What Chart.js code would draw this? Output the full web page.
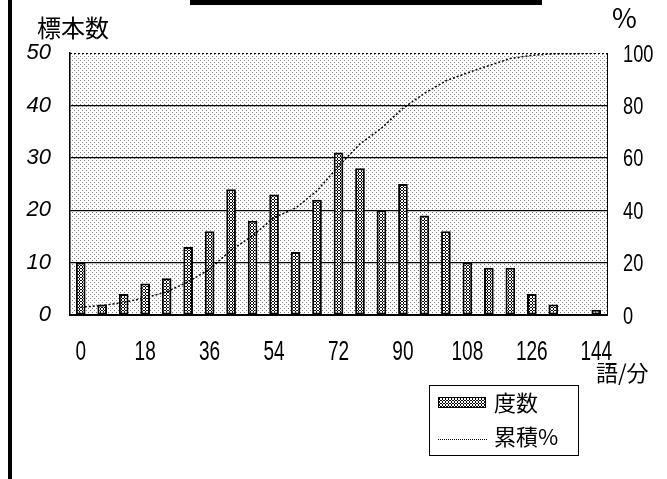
<!DOCTYPE html>
<html>
<head>
<meta charset="utf-8">
<script src="https://cdn.jsdelivr.net/npm/chart.js@4"></script>
<style>
  html, body { margin: 0; padding: 0; background: #fff; }
  #wrap { width: 667px; height: 479px; }
</style>
</head>
<body>
<div id="wrap"><canvas id="freqChart" width="667" height="479"></canvas></div>
<script>
// bins of reading speed (words per minute), step 6
const categories = [0, 6, 12, 18, 24, 30, 36, 42, 48, 54, 60, 66, 72, 78, 84, 90, 96, 102, 108, 114, 120, 126, 132, 138, 144];
// frequency (sample count) per bin
const frequency = [10, 2, 4, 6, 7, 13, 16, 24, 18, 23, 12, 22, 31, 28, 20, 25, 19, 16, 10, 9, 9, 4, 2, 0, 1];
// cumulative percentage
const cumulativePct = [3.0, 3.6, 4.8, 6.6, 8.8, 12.7, 17.5, 24.8, 30.2, 37.2, 40.8, 47.4, 56.8, 65.3, 71.3, 78.9, 84.6, 89.4, 92.4, 95.2, 97.9, 99.1, 99.7, 99.7, 100];
// which category labels are shown on the x axis
const xTickLabels = ['0', '18', '36', '54', '72', '90', '108', '126', '144'];

const seriesNames = ['度数', '累積%'];
const leftTitle = '標本数';
const rightTitle = '%';
const xTitle = '語/分';

const cjkFont = '"Noto Sans CJK JP", sans-serif';
const latinFont = '"Liberation Sans", Arial, sans-serif';

// stippled grey background for the plot area
function makeStipple() {
    const c = document.createElement('canvas');
    c.width = 4; c.height = 4;
    const g = c.getContext('2d');
    g.fillStyle = '#ffffff';
    g.fillRect(0, 0, 4, 4);
    g.fillStyle = '#808080';
    g.fillRect(0, 0, 1, 1);
    g.fillRect(2, 2, 1, 1);
    return g.createPattern(c, 'repeat');
}

// chain-like hatch used inside the bars
function makeBarHatch() {
    const c = document.createElement('canvas');
    c.width = 3; c.height = 3;
    const g = c.getContext('2d');
    g.fillStyle = '#ffffff';
    g.fillRect(0, 0, 3, 3);
    g.fillStyle = '#000000';
    g.fillRect(1, 0, 1, 1);
    g.fillRect(0, 1, 1, 1);
    g.fillRect(2, 1, 1, 1);
    g.fillRect(1, 2, 1, 1);
    return g.createPattern(c, 'repeat');
}

const stipple = makeStipple();
const barHatch = makeBarHatch();

// condensed text: draw with a horizontal squeeze
function narrowText(ctx, text, x, y, sx, align) {
    ctx.save();
    ctx.translate(x, y);
    ctx.scale(sx, 1);
    ctx.textAlign = align;
    ctx.fillText(text, 0, 0);
    ctx.restore();
}

// plot background, frame, narrow tick labels, titles and legend
const decorPlugin = {
    id: 'decor',
    beforeDraw(chart) {
        const ctx = chart.ctx;
        const a = chart.chartArea;
        ctx.save();
        ctx.fillStyle = '#ffffff';
        ctx.fillRect(0, 0, chart.width, chart.height);
        ctx.fillStyle = stipple;
        ctx.fillRect(a.left, a.top, a.right - a.left, a.bottom - a.top);
        ctx.restore();
    },
    afterDraw(chart) {
        const ctx = chart.ctx;
        const a = chart.chartArea;
        ctx.save();

        // dotted top border
        ctx.strokeStyle = '#000';
        ctx.lineWidth = 1;
        ctx.setLineDash([2, 2]);
        ctx.beginPath();
        ctx.moveTo(a.left, a.top + 0.5);
        ctx.lineTo(a.right, a.top + 0.5);
        ctx.stroke();
        ctx.setLineDash([]);

        // black edge on the left and bar at the top (cropped frame)
        ctx.fillStyle = '#000';
        ctx.fillRect(8, 0, 4, chart.height);
        ctx.fillRect(190, 0, 352, 5);

        // x tick labels (condensed)
        const xs = chart.scales.x;
        ctx.fillStyle = '#000';
        ctx.textBaseline = 'alphabetic';
        ctx.font = '28px ' + latinFont;
        xTickLabels.forEach(lbl => {
            const idx = categories.indexOf(Number(lbl));
            const px = xs.getPixelForValue(idx);
            narrowText(ctx, lbl, px, xs.top + 45, 0.68, 'center');
        });

        // right tick labels (condensed)
        const ys = chart.scales.y2;
        ctx.font = '24px ' + latinFont;
        ys.ticks.forEach(t => {
            const py = ys.getPixelForValue(t.value);
            narrowText(ctx, String(t.value), ys.left + 16, py + 8.5, 0.76, 'left');
        });

        // axis titles
        ctx.textBaseline = 'top';
        ctx.textAlign = 'left';
        ctx.font = '24px ' + cjkFont;
        ctx.fillText(leftTitle, 37, 16);
        ctx.font = '27px ' + cjkFont;
        ctx.fillText(rightTitle, 612, 4);
        ctx.font = '22px ' + cjkFont;
        ctx.fillText(xTitle, 596, 362);

        // legend box
        ctx.strokeStyle = '#000';
        ctx.lineWidth = 1;
        ctx.strokeRect(429.5, 385.5, 149, 70);
        ctx.fillStyle = barHatch;
        ctx.fillRect(438, 397, 48, 11);
        ctx.strokeRect(438.5, 397.5, 47, 10);
        ctx.setLineDash([1, 1]);
        ctx.beginPath();
        ctx.moveTo(438, 439.5);
        ctx.lineTo(487, 439.5);
        ctx.stroke();
        ctx.setLineDash([]);
        ctx.fillStyle = '#000';
        ctx.textBaseline = 'middle';
        ctx.font = '22px ' + cjkFont;
        ctx.fillText(seriesNames[0], 494, 403);
        ctx.fillText(seriesNames[1], 494, 437);

        ctx.restore();
    }
};

function createChart() {
    const ctx = document.getElementById('freqChart').getContext('2d');

    new Chart(ctx, {
        data: {
            labels: categories,
            datasets: [
                {
                    type: 'line',
                    label: seriesNames[1],
                    data: cumulativePct,
                    yAxisID: 'y2',
                    borderColor: '#000',
                    borderWidth: 1.5,
                    borderDash: [2, 2],
                    pointRadius: 0,
                    tension: 0,
                    fill: false,
                    order: 0
                },
                {
                    type: 'bar',
                    label: seriesNames[0],
                    data: frequency,
                    yAxisID: 'y',
                    backgroundColor: barHatch,
                    borderColor: '#000',
                    borderWidth: 2,
                    borderSkipped: false,
                    barPercentage: 0.45,
                    categoryPercentage: 1.0,
                    order: 1
                }
            ]
        },
        options: {
            responsive: false,
            animation: false,
            layout: { padding: { top: 53, left: 0, right: 0, bottom: 0 } },
            plugins: {
                legend: { display: false },
                tooltip: { enabled: false }
            },
            scales: {
                x: {
                    grid: { display: false, drawTicks: false },
                    border: { color: '#000', width: 2 },
                    ticks: { display: false, autoSkip: false },
                    afterFit: function (scale) { scale.height = 164; }
                },
                y: {
                    position: 'left',
                    min: 0,
                    max: 50,
                    grid: {
                        drawTicks: false,
                        color: function (c) {
                            return (c.tick.value === 50) ? 'rgba(0,0,0,0)' : '#000';
                        },
                        lineWidth: 1.2
                    },
                    border: { color: '#000', width: 1.5 },
                    ticks: {
                        stepSize: 10,
                        padding: 19,
                        color: '#000',
                        font: { family: latinFont, size: 22, style: 'italic' }
                    },
                    afterFit: function (scale) { scale.width = 70; }
                },
                y2: {
                    position: 'right',
                    min: 0,
                    max: 100,
                    grid: { display: false, drawTicks: false },
                    border: { color: '#000', width: 1, dash: [2, 2] },
                    ticks: { display: false, stepSize: 20 },
                    afterFit: function (scale) { scale.width = 60; }
                }
            }
        },
        plugins: [decorPlugin]
    });
}

document.addEventListener('DOMContentLoaded', createChart);
</script>
</body>
</html>
